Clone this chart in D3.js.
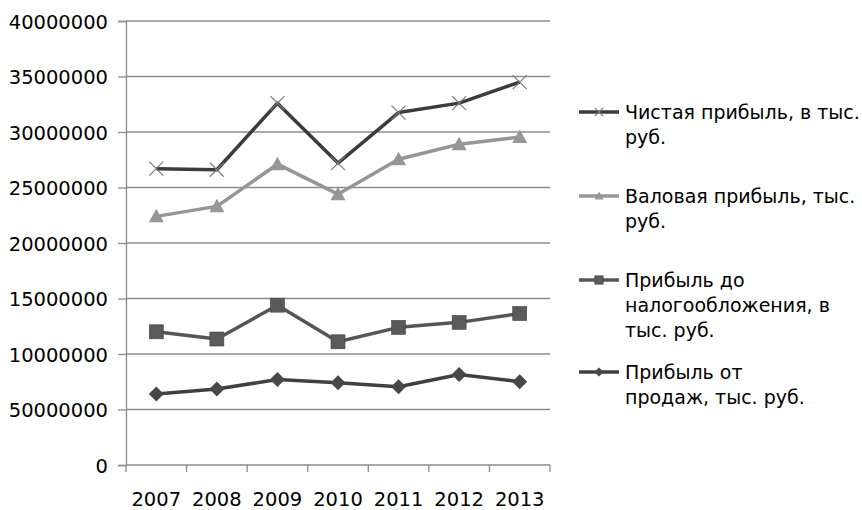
<!DOCTYPE html>
<html>
<head>
<meta charset="utf-8">
<script src="https://cdn.jsdelivr.net/npm/d3@7/dist/d3.min.js"></script>
<style>
  html, body { margin: 0; padding: 0; background: #fff; }
  svg text { font-family: "DejaVu Sans", sans-serif; fill: #000; }
</style>
</head>
<body>
<svg id="chart" width="862" height="510"></svg>
<script>
// Years along the horizontal axis
const years = ["2007", "2008", "2009", "2010", "2011", "2012", "2013"];

// Series values (thousand roubles)
const netProfit   = [26700000, 26600000, 32600000, 27200000, 31750000, 32600000, 34500000];
const grossProfit = [22400000, 23300000, 27100000, 24400000, 27550000, 28900000, 29550000];
const pretaxProfit = [12000000, 11350000, 14400000, 11100000, 12400000, 12850000, 13650000];
const salesProfit = [6400000, 6850000, 7700000, 7400000, 7050000, 8150000, 7500000];

// Value axis ticks and their printed labels
const yTicks = [0, 5000000, 10000000, 15000000, 20000000, 25000000, 30000000, 35000000, 40000000];
const yTickLabels = ["0", "50000000", "10000000", "15000000", "20000000", "25000000", "30000000", "35000000", "40000000"];

// Legend captions, split into the lines they are printed on
const netLabel = ["Чистая прибыль, в тыс.", "руб."];
const grossLabel = ["Валовая прибыль, тыс.", "руб."];
const pretaxLabel = ["Прибыль до", "налогообложения, в", "тыс. руб."];
const salesLabel = ["Прибыль от", "продаж, тыс. руб."];

const series = [
  { values: netProfit,   label: netLabel,    color: "#3c3c3c", marker: "x",        markerColor: "#7a7a7a", legendY: 112 },
  { values: grossProfit, label: grossLabel,  color: "#969696", marker: "triangle", markerColor: "#969696", legendY: 196 },
  { values: pretaxProfit, label: pretaxLabel, color: "#565656", marker: "square",   markerColor: "#5a5a5a", legendY: 280 },
  { values: salesProfit, label: salesLabel,  color: "#404040", marker: "diamond",  markerColor: "#484848", legendY: 372 }
];

const svg = d3.select("#chart");
const plot = { left: 126, right: 550, top: 21, bottom: 465 };

const x = d3.scaleBand().domain(years).range([plot.left, plot.right]);
const y = d3.scaleLinear().domain([0, 40000000]).range([plot.bottom, plot.top]);

// Horizontal gridlines
svg.append("g")
  .selectAll("line")
  .data(yTicks.slice(1))
  .join("line")
  .attr("x1", plot.left).attr("x2", plot.right)
  .attr("y1", d => y(d)).attr("y2", d => y(d))
  .attr("stroke", "#8c8c8c").attr("stroke-width", 1.3);

// Value axis
const yAxis = svg.append("g")
  .attr("transform", `translate(${plot.left},0)`)
  .call(d3.axisLeft(y).tickValues(yTicks).tickSize(8).tickPadding(10)
    .tickFormat((d, i) => yTickLabels[i]));
yAxis.select(".domain").attr("stroke", "#8c8c8c").attr("stroke-width", 1.3);
yAxis.selectAll(".tick line").attr("stroke", "#8c8c8c").attr("stroke-width", 1.3);
yAxis.selectAll(".tick text")
  .attr("font-size", 19.5)
  .attr("font-family", "DejaVu Sans")
  .attr("fill", "#000")
  .attr("dy", "0.36em");

// Category axis with ticks between years
const xAxisG = svg.append("g").attr("transform", `translate(0,${plot.bottom})`);
xAxisG.append("line")
  .attr("x1", plot.left).attr("x2", plot.right)
  .attr("stroke", "#8c8c8c").attr("stroke-width", 1.3);
const boundaries = years.map(d => x(d)).concat([x(years[years.length - 1]) + x.bandwidth()]);
xAxisG.selectAll("line.tick")
  .data(boundaries)
  .join("line")
  .attr("class", "tick")
  .attr("x1", d => d).attr("x2", d => d)
  .attr("y1", 0).attr("y2", 7)
  .attr("stroke", "#8c8c8c").attr("stroke-width", 1.3);
xAxisG.selectAll("text")
  .data(years)
  .join("text")
  .attr("x", d => x(d) + x.bandwidth() / 2)
  .attr("y", 41)
  .attr("text-anchor", "middle")
  .attr("font-size", 19.5)
  .text(d => d);

// Marker shapes
function drawMarker(g, type, cx, cy, color, scale) {
  const s = scale || 1;
  if (type === "x") {
    const r = 7 * s;
    g.append("path")
      .attr("d", `M${cx - r},${cy - r}L${cx + r},${cy + r}M${cx - r},${cy + r}L${cx + r},${cy - r}`)
      .attr("stroke", color).attr("stroke-width", 1.2).attr("fill", "none");
  } else if (type === "triangle") {
    const r = 7.5 * s;
    g.append("path")
      .attr("d", `M${cx},${cy - r}L${cx + r},${cy + r * 0.8}L${cx - r},${cy + r * 0.8}Z`)
      .attr("fill", color);
  } else if (type === "square") {
    const r = 7 * s;
    g.append("rect")
      .attr("x", cx - r).attr("y", cy - r).attr("width", 2 * r).attr("height", 2 * r)
      .attr("fill", color).attr("stroke", "#444").attr("stroke-width", 0.6);
  } else if (type === "diamond") {
    const r = 7.5 * s;
    g.append("path")
      .attr("d", `M${cx},${cy - r}L${cx + r},${cy}L${cx},${cy + r}L${cx - r},${cy}Z`)
      .attr("fill", color);
  }
}

const line = d3.line()
  .x((d, i) => x(years[i]) + x.bandwidth() / 2)
  .y(d => y(d));

// Series lines and markers
series.forEach(s => {
  const g = svg.append("g");
  g.append("path")
    .datum(s.values)
    .attr("d", line)
    .attr("fill", "none")
    .attr("stroke", s.color)
    .attr("stroke-width", 3.5)
    .attr("stroke-linejoin", "round");
  s.values.forEach((v, i) => {
    drawMarker(g, s.marker, x(years[i]) + x.bandwidth() / 2, y(v), s.markerColor, 1);
  });
});

// Legend
const legend = svg.append("g");
series.forEach(s => {
  const g = legend.append("g");
  g.append("line")
    .attr("x1", 579).attr("x2", 619)
    .attr("y1", s.legendY).attr("y2", s.legendY)
    .attr("stroke", s.color).attr("stroke-width", 3.5);
  drawMarker(g, s.marker, 599, s.legendY, s.markerColor, 0.6);
  s.label.forEach((txt, j) => {
    g.append("text")
      .attr("x", 625)
      .attr("y", s.legendY + j * 25)
      .attr("dy", "0.36em")
      .attr("font-size", 19)
      .text(txt);
  });
});
</script>
</body>
</html>
